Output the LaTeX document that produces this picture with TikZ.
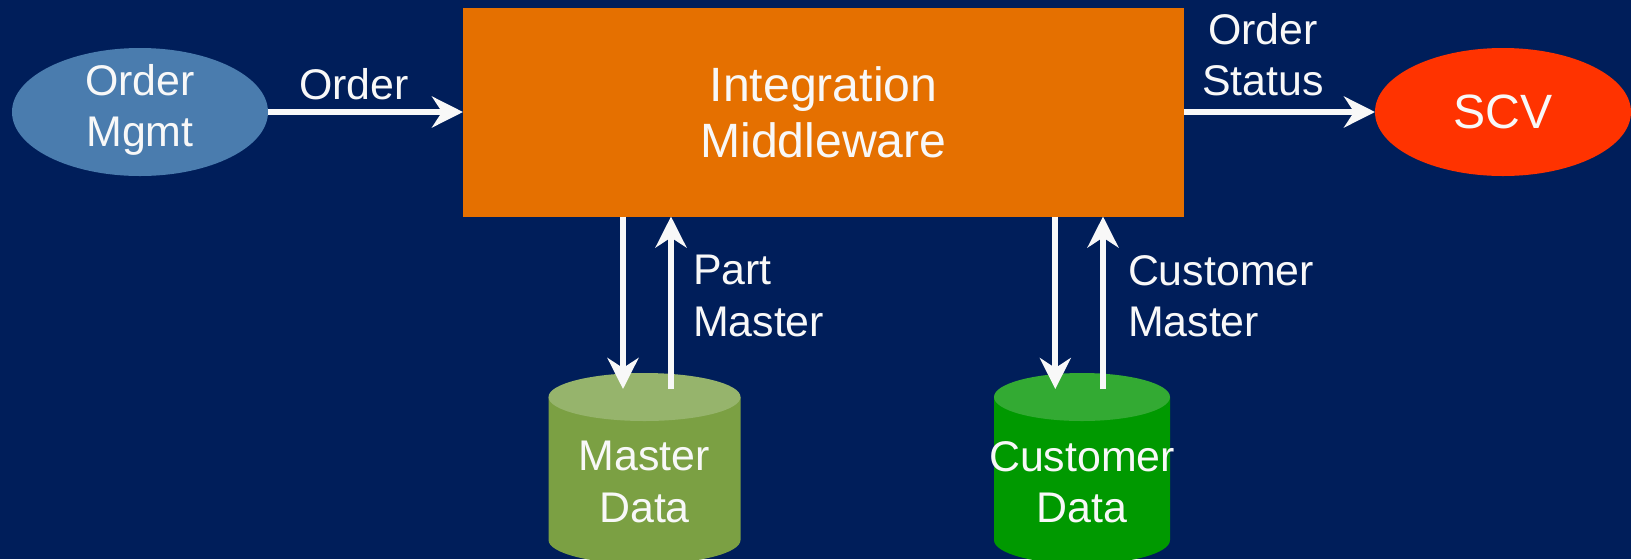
\documentclass[tikz,border=0pt]{standalone}
\usepackage{fontspec}
\setmainfont{Liberation Sans}
\usepackage{xcolor}
\usepackage{tikz}
\usetikzlibrary{arrows.meta,positioning,shapes.geometric}
\tikzset{
  txt/.style={text=textwhite,font=\fontsize{12.2}{14.6}\selectfont,align=center,inner sep=0pt,outer sep=0pt},
  bigtxt/.style={txt,font=\fontsize{13.7}{16}\selectfont},
  endpoint/.style={txt,ellipse,minimum width=2.56cm,minimum height=1.28cm},
  flow/.style={draw=textwhite,line width=0.06cm,-{Stealth[length=0.31cm,width=0.31cm,inset=0.1cm]}}
}

\begin{document}
\begin{tikzpicture}
\definecolor{navy}{HTML}{001E5A}
\definecolor{textwhite}{HTML}{F8F8F8}
\definecolor{mworange}{HTML}{E57000}
\definecolor{omblue}{HTML}{4A7CAE}
\definecolor{scvred}{HTML}{FF3300}
\definecolor{mdbody}{HTML}{7BA043}
\definecolor{mdtop}{HTML}{96B46C}
\definecolor{cdbody}{HTML}{009900}
\definecolor{cdtop}{HTML}{33AA33}
\useasboundingbox (0,0) rectangle (16.31,5.59);
\fill[navy] (0,0) rectangle (16.31,5.59);

% Middleware and both ends (top row)
\node[bigtxt,fill=mworange,minimum width=7.21cm,minimum height=2.09cm] (middleware) at (8.235,4.47) {Integration\\Middleware};
\node[endpoint,fill=omblue] (ordermgmt) at (1.4,4.47) {};
\node[txt] (ordermgmtlabel) at (1.4,4.49) {Order\\Mgmt};
\node[endpoint,bigtxt,fill=scvred] (scv) at (15.03,4.47) {\raisebox{-0.02cm}{SCV}};
\draw[flow] (ordermgmt.east) -- (middleware.west);
\draw[flow] (middleware.east) -- (scv.west);
\node[txt] (orderlabel) at (3.54,4.75) {Order};
\node[txt] (statuslabel) at (12.63,5.045) {Order\\Status};

% Data stores (bottom row)
\foreach \store/\xc/\rad/\bodycol/\endcol/\txtline/\xin/\xout in {masterdata/6.445/0.96/mdbody/mdtop/Master/6.23/6.71,customerdata/10.82/0.88/cdbody/cdtop/Customer/10.553/11.03} {
  \fill[\bodycol] (\xc-\rad,1.62) -- (\xc-\rad,0.19) arc[start angle=180,end angle=360,x radius=\rad,y radius=0.24] -- (\xc+\rad,1.62) -- cycle;
  \fill[\endcol] (\xc,1.62) ellipse [x radius=\rad,y radius=0.24];
  \node[txt] (\store) at (\xc,0.77) {\txtline\\Data};
  \coordinate (\store in) at (\xin,1.70);
  \coordinate (\store out) at (\xout,1.70);
  \draw[flow] (\store in |- middleware.south) -- (\store in);
  \draw[flow] (\store out) -- (\store out |- middleware.south);
}
\node[txt,align=left,right] (partlabel) at (6.93,2.63) {Part\\Master};
\node[txt,align=left,right] (custlabel) at (11.28,2.63) {Customer\\Master};
\end{tikzpicture}
\end{document}
